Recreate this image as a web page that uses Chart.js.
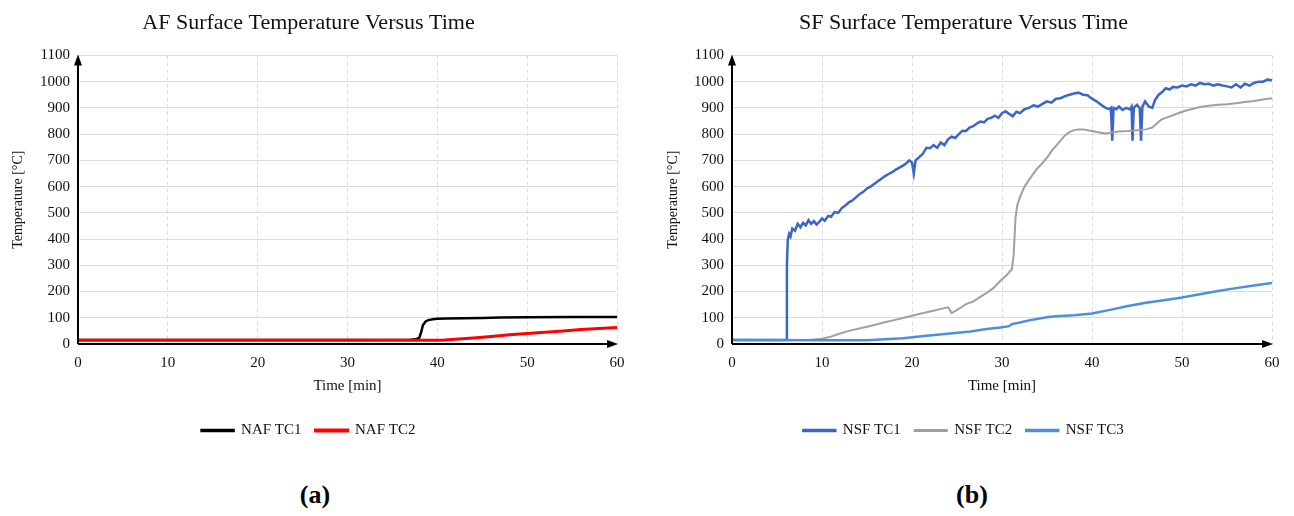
<!DOCTYPE html>
<html>
<head>
<meta charset="utf-8">
<script src="https://cdn.jsdelivr.net/npm/chart.js@4.4.1/dist/chart.umd.min.js"></script>
<style>
  body { margin: 0; background: #fff; width: 1294px; height: 516px; position: relative; overflow: hidden; }
  canvas { position: absolute; top: 0; }
  #c1 { left: 0; }
  #c2 { left: 655px; }
  .tag { position: absolute; top: 480px; font: bold 26px "Liberation Serif", serif; color: #000; width: 60px; text-align: center; }
</style>
</head>
<body>
<canvas id="c1" width="640" height="460"></canvas>
<canvas id="c2" width="635" height="460"></canvas>
<div class="tag" style="left:285px">(a)</div>
<div class="tag" style="left:942px">(b)</div>
<script>
// (a) AF
const nafTc1Time = [0, 10, 20, 30, 37, 37.6, 38.0, 38.2, 38.4, 38.7, 39.0, 39.5, 40.0, 41, 43, 45, 47, 50, 55, 60];
const nafTc1Temp = [15, 15, 15, 15, 16, 18, 24, 45, 72, 86, 91, 94, 96, 97, 98, 99, 101, 102, 103, 103];
const nafTc2Time = [0, 10, 20, 30, 40, 40.8, 42, 44, 46, 48, 50, 52, 54, 56, 58, 60];
const nafTc2Temp = [14, 14, 14, 14, 14, 15, 18, 23, 29, 35, 40, 45, 50, 55, 59, 63];

// (b) SF
const nsfTc1Time = [0, 5.9, 6.0, 6.1, 6.2, 6.35, 6.5, 6.7, 7.0, 7.3, 7.6, 7.9, 8.2, 8.5, 8.8, 9.1, 9.4, 9.7,
  10.0, 10.3, 10.7, 11.0, 11.4, 11.8, 12.2, 12.6, 13.0, 13.4, 13.8, 14.2, 14.6, 15.0, 15.4, 15.8, 16.2, 16.6,
  17.0, 17.4, 17.8, 18.2, 18.6, 19.0, 19.4, 19.7, 20.0, 20.2, 20.4, 20.8, 21.2, 21.6, 22.0, 22.4, 22.8, 23.2,
  23.6, 24.0, 24.4, 24.8, 25.2, 25.6, 26.0, 26.4, 26.8, 27.2, 27.6, 28.0, 28.4, 28.8, 29.2, 29.6, 30.0, 30.4,
  30.8, 31.2, 31.6, 32.0, 32.5, 33.0, 33.5, 34.0, 34.5, 35.0, 35.5, 36.0, 36.5, 37.0, 37.5, 38.0, 38.5, 39.0,
  39.5, 40.0, 40.5, 41.0, 41.5, 41.9, 42.1, 42.25, 42.4, 42.7, 43.0, 43.4, 43.8, 44.2, 44.4, 44.5, 44.65, 45.0,
  45.3, 45.45, 45.6, 45.9, 46.3, 46.7, 47.0, 47.4, 47.8, 48.2, 48.6, 49.0, 49.5, 50.0, 50.5, 51.0, 51.5, 52.0,
  52.5, 53.0, 53.5, 54.0, 54.5, 55.0, 55.5, 56.0, 56.5, 57.0, 57.5, 58.0, 58.5, 59.0, 59.5, 60.0];
const nsfTc1Temp = [15, 15, 16, 300, 398, 420, 410, 440, 432, 458, 445, 462, 452, 472, 458, 468, 455, 466,
  478, 470, 488, 485, 503, 500, 518, 528, 540, 548, 560, 572, 580, 593, 600, 610, 620, 630,
  640, 648, 655, 665, 672, 680, 690, 700, 692, 650, 700, 712, 725, 748, 746, 758, 748, 768,
  758, 780, 790, 785, 800, 813, 812, 825, 830, 840, 848, 845, 858, 862, 870, 862, 880, 887,
  877, 868, 885, 880, 895, 900, 910, 905, 915, 925, 920, 935, 937, 945, 950, 955, 958, 950,
  948, 935, 925, 912, 900, 895, 900, 775, 900, 895, 905, 892, 900, 895, 905, 775, 900, 912,
  900, 775, 905, 925, 905, 900, 930, 950, 960, 975, 970, 980, 978, 985, 982, 990, 985, 995,
  990, 992, 985, 990, 985, 982, 978, 990, 978, 992, 985, 995, 1000, 1000, 1008, 1005];
const nsfTc2Time = [0, 8.5, 10, 11, 12, 13, 14, 15, 16, 17, 18, 19, 20, 21, 22, 23, 24, 24.2, 24.4, 25, 25.5,
  26, 26.8, 27.5, 28.3, 29, 29.8, 30.5, 31.1, 31.3, 31.5, 31.7, 32.0, 32.5, 33, 33.5, 34, 34.5, 35, 35.5, 36,
  36.5, 37, 37.5, 38, 38.5, 39, 39.5, 40, 40.5, 41, 41.5, 42, 43, 44, 45, 46, 46.7, 47.2, 47.7, 48.2, 49, 50,
  51, 52, 53, 54, 55, 56, 57, 58, 59, 60];
const nsfTc2Temp = [15, 15, 20, 28, 40, 50, 58, 66, 74, 83, 91, 99, 108, 116, 124, 132, 140, 130, 118, 130, 140,
  152, 162, 178, 195, 212, 240, 262, 285, 340, 480, 530, 560, 600, 625, 650, 672, 690, 710, 735, 755,
  775, 795, 808, 815, 818, 818, 815, 812, 808, 805, 802, 805, 810, 812, 815, 818, 825, 840, 855, 862, 872, 885,
  895, 903, 908, 912, 914, 918, 922, 926, 932, 937];
const nsfTc3Time = [0, 10, 15, 17, 19, 20.8, 22.5, 24.5, 26.5, 28.3, 29.8, 30.8, 31.1, 32, 33, 34, 35, 36, 38,
  40, 42, 44, 46, 48, 50, 52, 54, 56, 58, 60];
const nsfTc3Temp = [15, 14, 14, 18, 22, 29, 34, 41, 48, 57, 63, 68, 76, 82, 90, 96, 102, 106, 110,
  116, 130, 145, 157, 167, 177, 190, 202, 213, 223, 233];

const yTicks = [0, 100, 200, 300, 400, 500, 600, 700, 800, 900, 1000, 1100];
const xTicks = [0, 10, 20, 30, 40, 50, 60];

const fonte = '"Liberation Serif", "Times New Roman", serif';

function pontos(t, v) {
  return t.map((x, i) => ({ x: x, y: v[i] }));
}

// eixos com seta, estilo Excel
const setas = {
  id: 'setas',
  afterDatasetsDraw(chart) {
    const { ctx, chartArea: a } = chart;
    ctx.save();
    ctx.strokeStyle = '#000';
    ctx.fillStyle = '#000';
    ctx.lineWidth = 2;
    ctx.beginPath();
    ctx.moveTo(a.left, a.bottom);
    ctx.lineTo(a.left, a.top + 6);
    ctx.moveTo(a.left, a.bottom);
    ctx.lineTo(a.right - 6, a.bottom);
    ctx.stroke();
    ctx.beginPath();
    ctx.moveTo(a.left, a.top - 1);
    ctx.lineTo(a.left - 4, a.top + 10);
    ctx.lineTo(a.left + 4, a.top + 10);
    ctx.closePath();
    ctx.moveTo(a.right + 1, a.bottom);
    ctx.lineTo(a.right - 10, a.bottom - 4);
    ctx.lineTo(a.right - 10, a.bottom + 4);
    ctx.closePath();
    ctx.fill();
    ctx.restore();
  }
};

function opcoes(titulo, larguraY, padDir) {
  return {
    responsive: false,
    animation: false,
    devicePixelRatio: 1,
    layout: { padding: { left: 0, right: padDir, top: 0, bottom: 12 } },
    plugins: {
      title: {
        display: true, text: titulo, color: '#111',
        font: { family: fonte, size: 22, weight: 'normal' },
        padding: { top: 10, bottom: 19 }
      },
      legend: {
        position: 'bottom',
        labels: {
          boxWidth: 32, boxHeight: 1, color: '#111', font: { family: fonte, size: 15 }, padding: 14,
          sort: (a, b) => a.datasetIndex - b.datasetIndex
        }
      },
      tooltip: { enabled: false }
    },
    scales: {
      x: {
        type: 'linear', min: 0, max: 60,
        afterBuildTicks: s => { s.ticks = xTicks.map(v => ({ value: v })); },
        afterFit: s => { s.height = 65; },
        ticks: { color: '#111', font: { family: fonte, size: 15 }, padding: 10, callback: v => String(v) },
        grid: { color: '#dcdcdc', drawTicks: false },
        border: { display: false, dash: [4, 3] },
        title: { display: true, text: 'Time [min]', color: '#111', font: { family: fonte, size: 15 }, padding: { top: 2, bottom: 14 } }
      },
      y: {
        min: 0, max: 1100,
        afterBuildTicks: s => { s.ticks = yTicks.map(v => ({ value: v })); },
        afterFit: s => { s.width = larguraY; },
        ticks: { color: '#111', font: { family: fonte, size: 15 }, padding: 8, callback: v => String(v) },
        grid: { color: '#dcdcdc', drawTicks: false },
        border: { display: false },
        title: { display: true, text: 'Temperature [°C]', color: '#111', font: { family: fonte, size: 14 }, padding: { top: 10, bottom: 4 } }
      }
    }
  };
}

function serie(nome, t, v, cor, w, ordem) {
  return {
    label: nome, data: pontos(t, v), borderColor: cor, backgroundColor: cor,
    borderWidth: w, pointRadius: 0, tension: 0, order: ordem
  };
}

new Chart(document.getElementById('c1'), {
  type: 'line',
  data: {
    datasets: [
      serie('NAF TC1', nafTc1Time, nafTc1Temp, '#000000', 2.5, 2),
      serie('NAF TC2', nafTc2Time, nafTc2Temp, '#ff0000', 3, 1)
    ]
  },
  options: opcoes('AF Surface Temperature Versus Time', 78, 23),
  plugins: [setas]
});

new Chart(document.getElementById('c2'), {
  type: 'line',
  data: {
    datasets: [
      serie('NSF TC1', nsfTc1Time, nsfTc1Temp, '#3a66c6', 2.5, 3),
      serie('NSF TC2', nsfTc2Time, nsfTc2Temp, '#a0a0a0', 2, 2),
      serie('NSF TC3', nsfTc3Time, nsfTc3Temp, '#4a90dc', 2.5, 1)
    ]
  },
  options: opcoes('SF Surface Temperature Versus Time', 77, 18),
  plugins: [setas]
});
</script>
</body>
</html>
